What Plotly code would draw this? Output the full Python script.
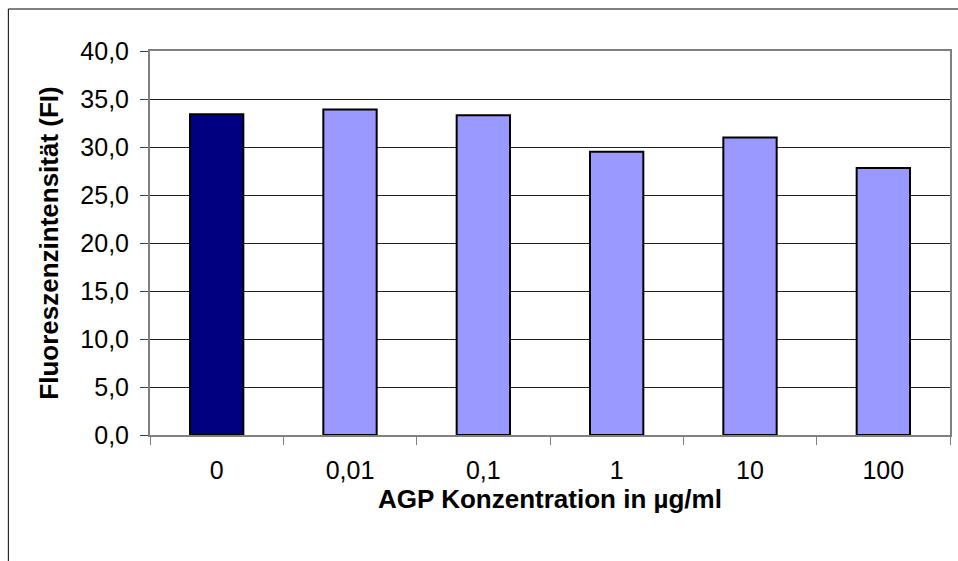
import plotly.graph_objects as go

# Fluorescence intensity per AGP concentration
konzentrationen = ["0", "0,01", "0,1", "1", "10", "100"]
fluoreszenz = [33.4, 33.9, 33.3, 29.5, 31.0, 27.8]
farben = ["#000080", "#9999FF", "#9999FF", "#9999FF", "#9999FF", "#9999FF"]

FONT = "Arial, Liberation Sans, sans-serif"

fig = go.Figure(
    go.Bar(
        x=konzentrationen,
        y=fluoreszenz,
        marker=dict(color=farben, line=dict(color="#000000", width=2)),
        width=0.4,
    )
)

W, H = 958, 561
ML, MR, MT, MB = 150, 6, 51, 126
pw = W - ML - MR
ph = H - MT - MB

fig.update_layout(
    width=W,
    height=H,
    margin=dict(l=ML, r=MR, t=MT, b=MB),
    paper_bgcolor="white",
    plot_bgcolor="white",
    separators=", ",
    showlegend=False,
    font=dict(family=FONT, size=25, color="#000000"),
    xaxis=dict(
        type="category",
        showline=True,
        linecolor="#808080",
        linewidth=2,
        mirror=True,
        ticks="outside",
        tickson="boundaries",
        ticklen=8,
        tickcolor="#808080",
        tickfont=dict(size=25),
        ticklabelstandoff=12,
        title=dict(text="<b>AGP Konzentration in µg/ml</b>", font=dict(size=26), standoff=2),
        showgrid=False,
    ),
    yaxis=dict(
        range=[0, 40],
        dtick=5,
        tickformat=".1f",
        showline=True,
        linecolor="#808080",
        linewidth=2,
        mirror=True,
        ticks="outside",
        ticklen=8,
        tickcolor="#404040",
        tickfont=dict(size=25),
        ticklabelstandoff=6,
        showgrid=True,
        gridcolor="#222222",
        gridwidth=1,
        zeroline=False,
        title=dict(text="<b>Fluoreszenzintensität (FI)</b>", font=dict(size=26), standoff=14),
    ),
    shapes=[
        dict(
            type="rect",
            xref="paper",
            yref="paper",
            x0=(8 - ML) / pw,
            x1=1.2,
            y0=-0.5,
            y1=(ph + MT - 9) / ph,
            line=dict(color="#000000", width=1),
            fillcolor="rgba(0,0,0,0)",
            layer="below",
        )
    ],
)

fig.write_html("out.html")
